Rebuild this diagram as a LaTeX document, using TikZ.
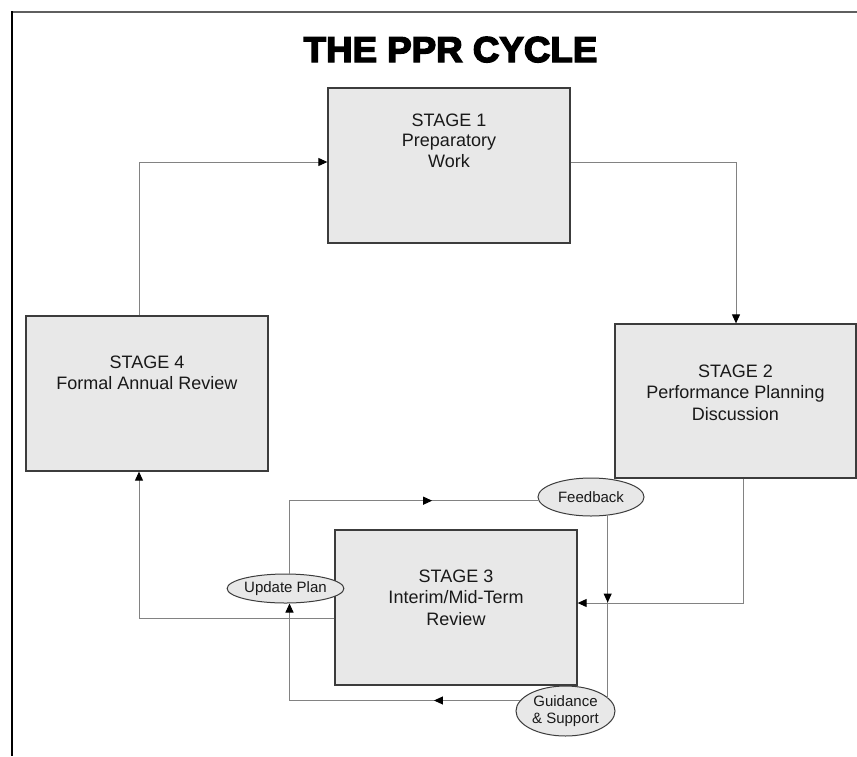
\documentclass[tikz,border=0pt]{standalone}
\usepackage{fontspec}
\setmainfont{Liberation Sans}
\newfontfamily\heavy[FakeBold=4]{Liberation Sans Bold}
\usetikzlibrary{arrows.meta,shapes.geometric,decorations.markings}
\definecolor{boxfill}{RGB}{232,232,232}
\definecolor{boxline}{RGB}{60,60,60}
\definecolor{lineg}{RGB}{130,130,130}
\definecolor{txt}{RGB}{25,25,25}
\definecolor{frtop}{RGB}{95,95,95}
\begin{document}
\begin{tikzpicture}[x=1pt,y=-1pt,
  box/.style={draw=boxline, line width=1.3pt, fill=boxfill, rectangle, inner sep=0pt, minimum width=242pt, minimum height=155pt},
  lbl/.style={anchor=north, inner sep=0pt, align=center, font=\fontsize{18}{21.5}\selectfont, text=txt},
  oval/.style={ellipse, draw=boxline, line width=1pt, fill=boxfill, inner sep=0pt, align=center, text=txt, font=\fontsize{15}{17.5}\selectfont},
  conn/.style={draw=lineg, line width=1pt},
  tip/.style={-{Triangle[length=9pt,width=8pt,color=black]}},
  midarrow/.style={postaction={decorate}, decoration={markings, mark=at position #1 with {\arrow{Triangle[length=9pt,width=8pt,color=black]}}}}
]
\useasboundingbox (0,0) rectangle (857,756);
\fill[white] (0,0) rectangle (857,756);
% frame
\draw[draw=frtop, line width=2pt] (10.5,12) -- (857,12);
\draw[draw=black, line width=2pt] (11.5,11) -- (11.5,756);
% title
\node[font=\heavy\fontsize{36}{40}\selectfont, anchor=base, inner sep=0pt, xscale=1.02] (title) at (450.5,62) {THE PPR CYCLE};
% boxes
\node[box] (s1) at (449,165.5) {};
\node[box, minimum width=241pt, minimum height=154pt] (s2) at (735.5,401) {};
\node[box] (s3) at (456,607.5) {};
\node[box] (s4) at (147,393.5) {};
\node[lbl, font=\fontsize{18}{20.5}\selectfont] (t1) at ([yshift=-26pt]s1.north) {STAGE 1\\Preparatory\\Work};
\node[lbl] (t2) at ([yshift=-41pt]s2.north) {STAGE 2\\Performance Planning\\Discussion};
\node[lbl] (t3) at ([yshift=-40pt]s3.north) {STAGE 3\\Interim/Mid-Term\\Review};
\node[lbl] (t4) at ([yshift=-40pt]s4.north) {STAGE 4\\Formal Annual Review};
% ovals
\node[oval, minimum width=106pt, minimum height=38pt] (fb) at (591,497) {Feedback};
\node[oval, minimum width=97pt, minimum height=29pt] (up) at (285.5,588.5) {Update Plan};
\node[oval, minimum width=99pt, minimum height=50pt] (gs) at (565.5,711) {Guidance\\\& Support};
\coordinate (lx) at (289.5,0);
% main cycle
\draw[conn,tip] ([xshift=-8pt]s4.north) |- ([yshift=3.5pt]s1.west);
\draw[conn,tip] ([yshift=3.5pt]s1.east) -| ([xshift=0.5pt]s2.north);
\draw[conn,tip] ([xshift=7.5pt]s2.south) |- ([yshift=4.5pt]s3.east);
\draw[conn,tip] ([yshift=-10.5pt]s3.west) -| ([xshift=-8pt]s4.south);
% inner loop
\draw[conn, midarrow=215.5pt] (up.north -| lx) |- (fb.184);
\draw[conn, midarrow=87pt] (fb.-48) -- (fb.-48 |- gs.17);
\draw[conn, tip, midarrow=86pt] (gs.167.6) -| (up.south -| lx);
\end{tikzpicture}
\end{document}
